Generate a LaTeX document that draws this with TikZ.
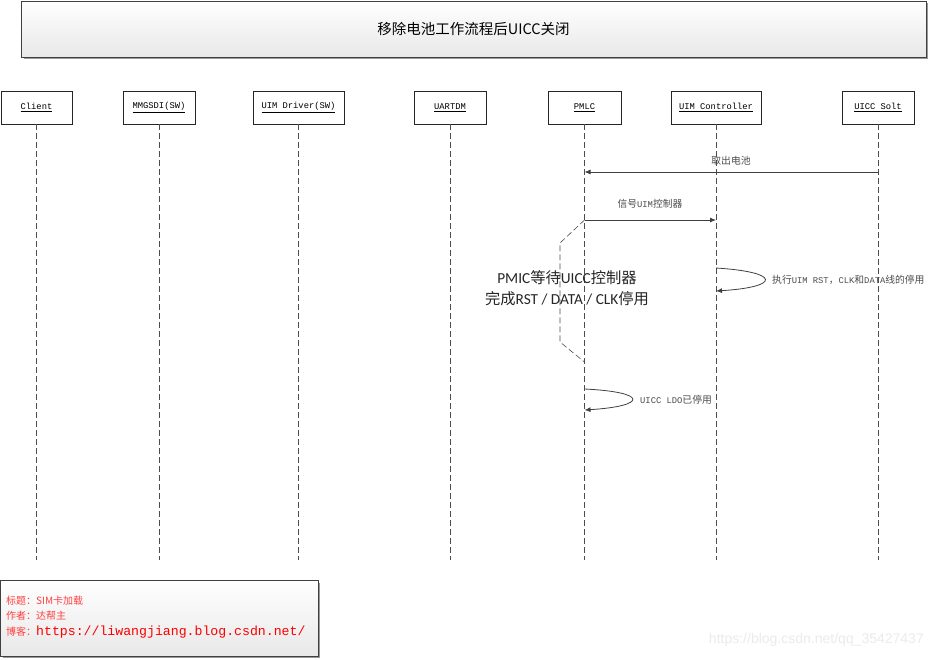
\documentclass[tikz,border=0pt]{standalone}
\usepackage{fontspec}
\setmainfont{Liberation Sans}
\setmonofont{Liberation Mono}
\newfontfamily\cjk{Noto Sans CJK SC}
\newfontfamily\cali{Carlito}
\usetikzlibrary{arrows.meta}
\newcommand\mo[1]{{\ttfamily\fontsize{8.8}{10}\selectfont #1}}
\begin{document}
\begin{tikzpicture}[x=1pt,y=-1pt,
  life/.style={draw=black!85, line width=0.8pt, minimum height=33pt, inner sep=0pt,
    font=\ttfamily\fontsize{8.8}{10}\selectfont},
  lline/.style={draw=black!70, dash pattern=on 6pt off 3pt, line width=0.6pt},
  msg/.style={draw=black!75, line width=0.8pt, -{Latex[length=6pt,width=5pt]}},
  lbl/.style={text=black!70, inner sep=0pt, font=\cjk\fontsize{9.8}{10}\selectfont},
  frame/.style={draw=black!70, dash pattern=on 6pt off 3pt, line width=0.6pt},
  boxshade/.style={draw=black!75, line width=0.8pt, top color=white, bottom color=black!9, inner sep=0pt},
  shad/.style={fill=black!40, draw=none},
  foot/.style={anchor=west, inner sep=0pt, text=red!75, font=\cjk\fontsize{10}{12}\selectfont}
]
\useasboundingbox (0,0) rectangle (933,659);
\fill[white] (0,0) rectangle (933,659);

% title
\fill[shad] (24,3) rectangle (928,59);
\node[boxshade, minimum width=905pt, minimum height=56pt] (title) at (473.5,29)
  {\cjk\fontsize{14.5}{16}\selectfont 移除电池工作流程后UICC关闭};

% lifeline heads
\node[life, minimum width=71pt] (client) at (36.5,107.5) {\underline{Client}};
\node[life, minimum width=72pt] (mmgsdi) at (159,107.5) {\underline{MMGSDI(SW)}};
\node[life, minimum width=91pt] (uimdrv) at (298.5,107.5) {\underline{UIM Driver(SW)}};
\node[life, minimum width=72pt] (uartdm) at (450,107.5) {\underline{UARTDM}};
\node[life, minimum width=73pt] (pmlc) at (584.5,107.5) {\underline{PMLC}};
\node[life, minimum width=90pt] (uimc) at (716,107.5) {\underline{UIM Controller}};
\node[life, minimum width=72pt] (solt) at (878,107.5) {\underline{UICC Solt}};

% lifeline ends
\coordinate (clientE) at (36.5,560);
\coordinate (mmgsdiE) at (159,560);
\coordinate (uimdrvE) at (298.5,560);
\coordinate (uartdmE) at (450,560);
\coordinate (pmlcE) at (584.5,560);
\coordinate (uimcE) at (716,560);
\coordinate (soltE) at (878,560);
\draw[lline] (client.south) -- (clientE);
\draw[lline] (mmgsdi.south) -- (mmgsdiE);
\draw[lline] (uimdrv.south) -- (uimdrvE);
\draw[lline] (uartdm.south) -- (uartdmE);
\draw[lline] (pmlc.south) -- (pmlcE);
\draw[lline] (uimc.south) -- (uimcE);
\draw[lline] (solt.south) -- (soltE);

% message points
\coordinate (s1) at (878,172);
\coordinate (p1) at (584.5,172);
\coordinate (p2) at (584.5,220);
\coordinate (u2) at (716,220);
\coordinate (u3a) at (716,268);
\coordinate (u3b) at (716,291);
\coordinate (p4a) at (584.5,389);
\coordinate (p4b) at (584.5,410);

\draw[msg] (s1) -- (p1);
\node[lbl] (m1) at (731,161) {取出电池};
\draw[msg] (p2) -- (u2);
\node[lbl] (m2) at (650,204) {信号\mo{UIM}控制器};
\draw[msg] (u3a) .. controls (781,272) and (781,287) .. (u3b);
\node[lbl, anchor=west] (m3) at (772,279.5) {执行\mo{UIM RST}，\mo{CLK}和\mo{DATA}线的停用};
\draw[msg] (p4a) .. controls (648,392) and (648,406) .. (p4b);
\node[lbl, anchor=west] (m4) at (640,399.5) {\mo{UICC LDO}已停用};

% dashed frame
\coordinate (f1) at (560,243);
\coordinate (f2) at (560,342);
\coordinate (f3) at (584.5,362);
\draw[frame] (p2) -- (f1) -- (f2) -- (f3);
\node[align=center, text=black!85, inner sep=0pt, font=\fontsize{15.3}{21}\selectfont] (note) at (567,288.5)
  {\cali PMIC{\cjk 等待}UICC{\cjk 控制器}\\{\cjk 完成}\cali RST / DATA / CLK{\cjk 停用}};

% footer
\fill[shad] (3,583) rectangle (320,658);
\node[boxshade, minimum width=318pt, minimum height=76pt] (footer) at (159,618) {};
\node[foot] (f1t) at (6,601) {标题：SIM卡加载};
\node[foot] (f2t) at (6,615.5) {作者：达帮主};
\node[foot] (f3t) at (6,632.5) {博客：{\ttfamily\fontsize{13.2}{14}\selectfont\color{red}https://liwangjiang.blog.csdn.net/}};

% watermark
\node[anchor=east, inner sep=0pt, text=black!8, font=\fontsize{14}{16}\selectfont] (wm) at (924,640) {https://blog.csdn.net/qq\_35427437};
\end{tikzpicture}
\end{document}
